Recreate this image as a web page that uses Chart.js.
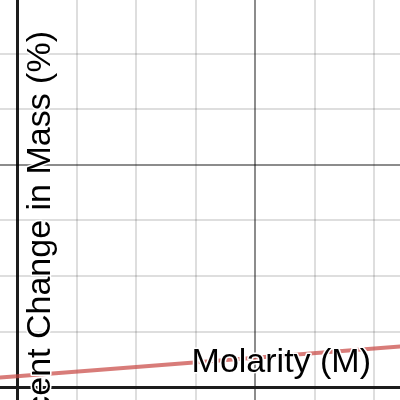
<!DOCTYPE html>
<html>
<head>
<meta charset="utf-8">
<script src="https://cdn.jsdelivr.net/npm/chart.js@4/dist/chart.umd.min.js"></script>
<style>
	html, body { margin: 0; padding: 0; background: #fff; }
	#wrap { width: 400px; height: 400px; }
</style>
</head>
<body>
<div id="wrap"><canvas id="graph" width="400" height="400"></canvas></div>
<script>
// fitted line (molarity -> percent change)
let molarity = [-0.5, 0, 3.5];
let massChange = [0.57, 0.98, 3.88];

// visible window and grid spacing
let xRange = [-0.143, 3.218];
let yRange = [-1.17, 34.86];
let xStep = 0.5, xMajor = 2;
let yStep = 5, yMajor = 20;

let xTitle = "Molarity (M)";
let yTitle = "Percent Change in Mass (%)";

function gridTicks(min, max, step) {
	let ticks = [];
	for (let v = Math.ceil(min / step) * step; v <= max; v += step) {
		ticks.push({ value: Math.round(v * 1000) / 1000 });
	}
	return ticks;
}

function gridColor(major) {
	return function (ctx) {
		let v = ctx.tick.value;
		if (Math.abs(v) < 1e-9) return "#1c1c1c";
		if (Math.abs(v / major - Math.round(v / major)) < 1e-9) return "rgba(0,0,0,0.45)";
		return "rgba(0,0,0,0.13)";
	};
}

function gridWidth(ctx) {
	return Math.abs(ctx.tick.value) < 1e-9 ? 3 : 2;
}

let axisLabels = {
	id: "axisLabels",
	afterDatasetsDraw(chart) {
		let c = chart.ctx;
		c.save();
		c.font = "34px 'Liberation Sans', Arial, sans-serif";
		c.fillStyle = "#000";
		c.strokeStyle = "#fff";
		c.lineWidth = 3;
		c.lineJoin = "round";

		c.textAlign = "right";
		c.textBaseline = "alphabetic";
		c.strokeText(xTitle, 371, 372);
		c.fillText(xTitle, 371, 372);

		c.translate(50, 31);
		c.rotate(-Math.PI / 2);
		c.strokeText(yTitle, 0, 0);
		c.fillText(yTitle, 0, 0);
		c.restore();
	}
};

let graph = new Chart(document.getElementById("graph"), {
	type: "scatter",
	data: {
		datasets: [{
			data: molarity.map((m, i) => ({ x: m, y: massChange[i] })),
			showLine: true,
			borderColor: "rgba(199,68,64,0.7)",
			borderWidth: 4,
			pointRadius: 0,
			fill: false
		}]
	},
	options: {
		responsive: false,
		animation: false,
		layout: { padding: 0 },
		plugins: { legend: { display: false }, tooltip: { enabled: false } },
		scales: {
			x: {
				type: "linear",
				min: xRange[0],
				max: xRange[1],
				afterBuildTicks: s => { s.ticks = gridTicks(xRange[0], xRange[1], xStep); },
				ticks: { display: false },
				border: { display: false },
				grid: { drawTicks: false, color: gridColor(xMajor), lineWidth: gridWidth }
			},
			y: {
				type: "linear",
				min: yRange[0],
				max: yRange[1],
				afterBuildTicks: s => { s.ticks = gridTicks(yRange[0], yRange[1], yStep); },
				ticks: { display: false },
				border: { display: false },
				grid: { drawTicks: false, color: gridColor(yMajor), lineWidth: gridWidth }
			}
		}
	},
	plugins: [axisLabels]
});
</script>
</body>
</html>
